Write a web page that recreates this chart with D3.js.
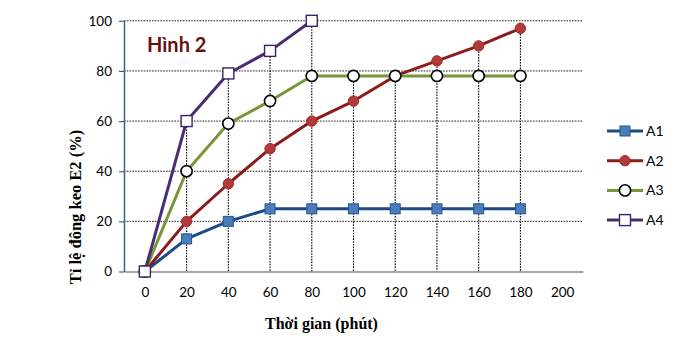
<!DOCTYPE html>
<html>
<head>
<meta charset="utf-8">
<script src="https://cdn.jsdelivr.net/npm/d3@7/dist/d3.min.js"></script>
<style>
  html, body { margin: 0; padding: 0; background: #fff; }
  svg { display: block; }
</style>
</head>
<body>
<svg id="chart" width="698" height="350"></svg>
<script>
// Time points (minutes) and coagulation ratio per sample
const times = [0, 20, 40, 60, 80, 100, 120, 140, 160, 180];
const a1 = [0, 13, 20, 25, 25, 25, 25, 25, 25, 25];
const a2 = [0, 20, 35, 49, 60, 68, 78, 84, 90, 97];
const a3 = [0, 40, 59, 68, 78, 78, 78, 78, 78, 78];
const a4 = [0, 60, 79, 88, 100];
const seriesNames = ["A1", "A2", "A3", "A4"];
const xTicks = [0, 20, 40, 60, 80, 100, 120, 140, 160, 180, 200];
const yTicks = [0, 20, 40, 60, 80, 100];

const svg = d3.select("#chart");
const x = d3.scaleLinear().domain([-10, 210]).range([124, 583]);
const y = d3.scaleLinear().domain([0, 100]).range([271.5, 20.8]);

const styles = {
  A1: { line: "#1b4a86", shape: "square", size: 10, fill: "#4a7ebb", stroke: "#24558f", sw: 1 },
  A2: { line: "#8e1b1b", shape: "circle", size: 5.2, fill: "#b23a3a", stroke: "#a02a2a", sw: 1 },
  A3: { line: "#77963a", shape: "circle", size: 5.6, fill: "#ffffff", stroke: "#000000", sw: 1.6 },
  A4: { line: "#4a2c72", shape: "square", size: 11, fill: "#ffffff", stroke: "#3e2461", sw: 1.4 }
};
const series = [a1, a2, a3, a4].map((vals, i) => ({
  name: seriesNames[i],
  points: vals.map((v, j) => ({ t: times[j], v }))
}));

const dash = "1.6,1.2";

// Horizontal gridlines
svg.append("g").selectAll("line").data(yTicks.filter(d => d > 0)).join("line")
  .attr("x1", x(-10)).attr("x2", x(210))
  .attr("y1", d => y(d)).attr("y2", d => y(d))
  .attr("stroke", "#222").attr("stroke-width", 1).attr("stroke-dasharray", dash);

// Drop lines from the highest point at each time down to the axis
const maxAt = times.map(t => ({ t, v: d3.max(series, s => { const p = s.points.find(q => q.t === t); return p ? p.v : null; }) }));
svg.append("g").selectAll("line").data(maxAt.filter(d => d.t > 0)).join("line")
  .attr("x1", d => x(d.t)).attr("x2", d => x(d.t))
  .attr("y1", d => y(d.v)).attr("y2", y(0))
  .attr("stroke", "#000").attr("stroke-width", 1.1).attr("stroke-dasharray", dash);

// X axis baseline
const xAxis = svg.append("g").attr("transform", `translate(0,${y(0)})`)
  .call(d3.axisBottom(x).tickValues(xTicks).tickSize(0).tickPadding(16));
xAxis.select(".domain").attr("stroke", "#8a8a8a").attr("stroke-width", 1.5);
xAxis.selectAll("text").attr("font-family", "Lato, 'Open Sans', sans-serif").attr("font-size", 13.5).attr("fill", "#000");

// Y axis
const yAxis = svg.append("g").attr("transform", `translate(${x(-10)},0)`)
  .call(d3.axisLeft(y).tickValues(yTicks).tickSize(5).tickSizeOuter(0).tickPadding(7));
yAxis.select(".domain").attr("stroke", "#3a5f8f").attr("stroke-width", 1.5);
yAxis.selectAll(".tick line").attr("stroke", "#3a5f8f").attr("stroke-width", 1.2);
yAxis.selectAll("text").attr("font-family", "Lato, 'Open Sans', sans-serif").attr("font-size", 13.5).attr("fill", "#000");

// Series lines
const line = d3.line().x(d => x(d.t)).y(d => y(d.v));
svg.append("g").selectAll("path").data(series).join("path")
  .attr("d", s => line(s.points))
  .attr("fill", "none")
  .attr("stroke", s => styles[s.name].line)
  .attr("stroke-width", 3)
  .attr("stroke-linejoin", "round");

function drawMarker(g, st, cx, cy) {
  if (st.shape === "square") {
    g.append("rect")
      .attr("x", cx - st.size / 2).attr("y", cy - st.size / 2)
      .attr("width", st.size).attr("height", st.size)
      .attr("fill", st.fill).attr("stroke", st.stroke).attr("stroke-width", st.sw);
  } else {
    g.append("circle").attr("cx", cx).attr("cy", cy).attr("r", st.size)
      .attr("fill", st.fill).attr("stroke", st.stroke).attr("stroke-width", st.sw);
  }
}

// Markers
series.forEach(s => {
  const g = svg.append("g");
  s.points.forEach(p => drawMarker(g, styles[s.name], x(p.t), y(p.v)));
});

// Legend
const legend = svg.append("g");
series.forEach((s, i) => {
  const ly = 131 + i * 29.7;
  const st = styles[s.name];
  legend.append("line").attr("x1", 607).attr("x2", 643).attr("y1", ly).attr("y2", ly)
    .attr("stroke", st.line).attr("stroke-width", 3);
  drawMarker(legend, st, 625, ly);
  legend.append("text").attr("x", 646).attr("y", ly).attr("dy", "0.36em")
    .attr("font-family", "Lato, 'Open Sans', sans-serif").attr("font-size", 14).attr("fill", "#000")
    .text(s.name);
});

// Figure caption inside the plot
svg.append("text").attr("x", 147).attr("y", 52)
  .attr("font-family", "Lato, 'Open Sans', sans-serif").attr("font-weight", "bold")
  .attr("font-size", 20).attr("fill", "#6b0f10").text("Hình 2");

// Axis titles
svg.append("text").attr("x", x(100) - 32).attr("y", 329).attr("text-anchor", "middle")
  .attr("font-family", "'Liberation Serif', serif").attr("font-weight", "bold")
  .attr("font-size", 16).attr("fill", "#000").text("Thời gian (phút)");

svg.append("text").attr("transform", "translate(81,207) rotate(-90)").attr("text-anchor", "middle")
  .attr("font-family", "'Liberation Serif', serif").attr("font-weight", "bold")
  .attr("font-size", 16.5).attr("fill", "#000").text("Tỉ lệ đông keo E2 (%)");
</script>
</body>
</html>
